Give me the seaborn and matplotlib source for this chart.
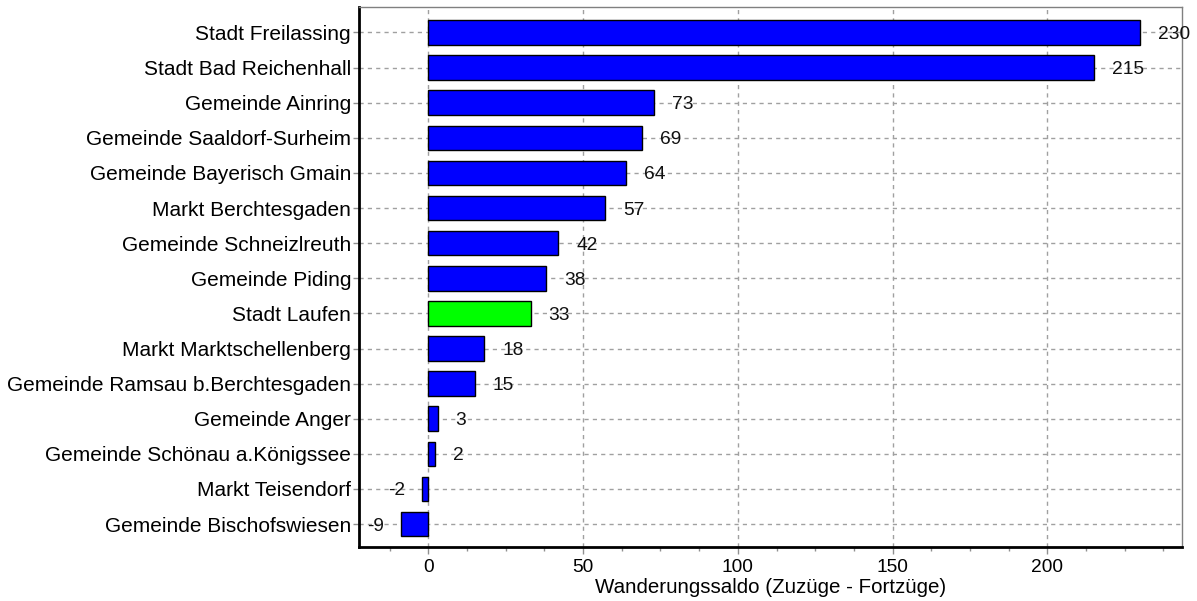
import matplotlib
matplotlib.use("Agg")
import matplotlib.pyplot as plt
from matplotlib.ticker import MultipleLocator
import pandas as pd
import seaborn as sns

# ─── Data ─────────────────────────────────────────────────────────────────────
gemeinden = [
    "Stadt Freilassing", "Stadt Bad Reichenhall", "Gemeinde Ainring",
    "Gemeinde Saaldorf-Surheim", "Gemeinde Bayerisch Gmain", "Markt Berchtesgaden",
    "Gemeinde Schneizlreuth", "Gemeinde Piding", "Stadt Laufen",
    "Markt Marktschellenberg", "Gemeinde Ramsau b.Berchtesgaden", "Gemeinde Anger",
    "Gemeinde Schönau a.Königssee", "Markt Teisendorf", "Gemeinde Bischofswiesen",
]
saldo = [230, 215, 73, 69, 64, 57, 42, 38, 33, 18, 15, 3, 2, -2, -9]
highlight = "Stadt Laufen"

df = pd.DataFrame({"gemeinde": gemeinden, "saldo": saldo})
palette = {g: ("#00ff00" if g == highlight else "#0000ff") for g in gemeinden}

sns.set_style("white")
plt.rcParams["font.family"] = ["Liberation Sans", "DejaVu Sans"]
plt.rcParams["text.color"] = "black"
plt.rcParams["axes.labelcolor"] = "black"
plt.rcParams["xtick.labelcolor"] = "black"
plt.rcParams["ytick.labelcolor"] = "black"

fig, ax = plt.subplots(figsize=(11.97, 6.01), dpi=100)
fig.subplots_adjust(left=0.2997, right=0.9872, top=0.988, bottom=0.09)

sns.barplot(data=df, x="saldo", y="gemeinde", hue="gemeinde", palette=palette,
            orient="h", width=0.7, edgecolor="black", linewidth=1,
            legend=False, saturation=1, ax=ax)

# dashed grid in both directions, behind the bars
ax.set_axisbelow(True)
ax.xaxis.grid(True, which="major", color="#a0a0a0", linestyle=(0, (3, 3)), linewidth=1)
ax.yaxis.grid(True, which="major", color="#a0a0a0", linestyle=(0, (3, 3)), linewidth=1)

# value labels next to the bars
for i, v in enumerate(saldo):
    if v >= 0:
        ax.text(v + 5.8, i, str(v), ha="left", va="center_baseline",
                fontsize=13.8, color="#111111")
    else:
        ax.text(v - 5.5, i, str(v), ha="right", va="center_baseline",
                fontsize=13.8, color="#111111")

ax.set_xlim(-22.5, 243.4)
ax.set_ylim(len(gemeinden) - 0.35, -0.72)
ax.xaxis.set_major_locator(MultipleLocator(50))
ax.xaxis.set_minor_locator(MultipleLocator(12.5))

ax.set_xlabel("Wanderungssaldo (Zuzüge - Fortzüge)", fontsize=14.8, labelpad=1)
ax.set_ylabel("")
ax.tick_params(axis="x", which="major", direction="out", length=5, width=1,
               color="#909090", labelsize=13.8, pad=4, bottom=True)
ax.tick_params(axis="x", which="minor", direction="out", length=3, width=1,
               color="#909090", bottom=True)
ax.tick_params(axis="y", which="major", direction="out", length=4, width=1,
               color="#909090", labelsize=15, pad=1.5, left=True)

for side in ("left", "bottom"):
    ax.spines[side].set_color("black")
    ax.spines[side].set_linewidth(2)
for side in ("top", "right"):
    ax.spines[side].set_color("#808080")
    ax.spines[side].set_linewidth(1)

plt.savefig("out.png", dpi=100)
plt.close()
